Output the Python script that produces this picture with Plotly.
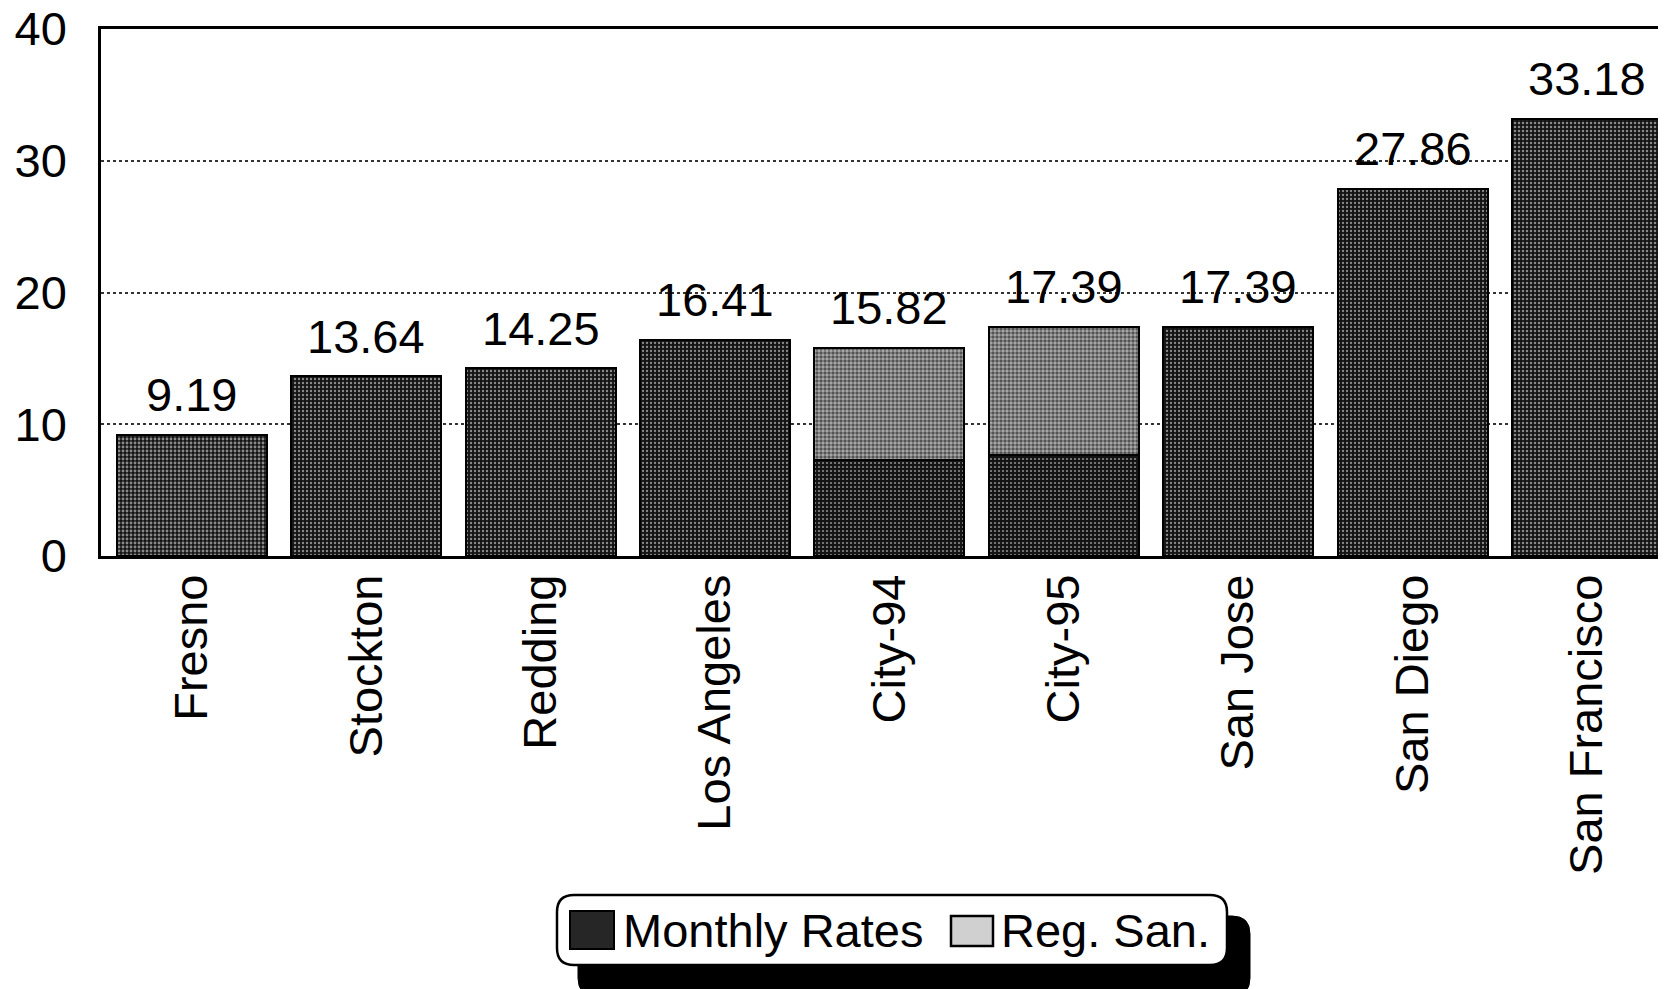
import plotly.graph_objects as go

# ---- data ----
categories = ["Fresno", "Stockton", "Redding", "Los Angeles", "City-94", "City-95",
              "San Jose", "San Diego", "San Francisco"]
monthly_rates = [9.19, 13.64, 14.25, 16.41, 7.25, 7.66, 17.39, 27.86, 33.18]
reg_san = [0, 0, 0, 0, 8.57, 9.73, 0, 0, 0]
total_labels = ["9.19", "13.64", "14.25", "16.41", "15.82", "17.39", "17.39", "27.86", "33.18"]
y_ticks = [0, 10, 20, 30, 40]
series_names = ["Monthly Rates", "Reg. San."]

FONT = "Liberation Sans, Arial, sans-serif"
FS = 47

OFF = 8  # browser default body margin
W, H = 1666 - OFF, 989 - OFF
# plot area in screen pixels
SL, ST, SB, SR = 101, 29, 556, 1666
L, T, B_PX, R = SL - OFF, ST - OFF, SB - OFF, SR - OFF
PW = R - L
PH = B_PX - T


def px2paper(x, y):
    # screen pixel -> paper coords
    return (x - SL) / PW, (SB - y) / PH


def rrect(x0, y0, x1, y1, r):
    def p(x, y):
        a, b = px2paper(x, y)
        return f"{a:.5f},{b:.5f}"
    return (f"M {p(x0 + r, y0)} L {p(x1 - r, y0)} Q {p(x1, y0)} {p(x1, y0 + r)} "
            f"L {p(x1, y1 - r)} Q {p(x1, y1)} {p(x1 - r, y1)} "
            f"L {p(x0 + r, y1)} Q {p(x0, y1)} {p(x0, y1 - r)} "
            f"L {p(x0, y0 + r)} Q {p(x0, y0)} {p(x0 + r, y0)} Z")


fig = go.Figure()
fig.add_trace(go.Bar(
    x=categories, y=monthly_rates, name=series_names[0],
    marker=dict(color="#141414", line=dict(color="black", width=2),
                pattern=dict(shape=".", fgcolor="#ffffff", bgcolor="#141414",
                             size=4,
                             solidity=[0.4, 0.28, 0.28, 0.26, 0.24, 0.24, 0.26, 0.26, 0.3])),
))
fig.add_trace(go.Bar(
    x=categories, y=reg_san, name=series_names[1],
    marker=dict(color="#5a5a5a", line=dict(color="black", width=2),
                pattern=dict(shape=".", fgcolor="#ffffff", bgcolor="#4a4a4a",
                             size=4, solidity=0.6)),
))

annotations = []
for i, c in enumerate(categories):
    total = monthly_rates[i] + reg_san[i]
    annotations.append(dict(x=c, y=total, xref="x", yref="y", text=total_labels[i],
                            showarrow=False, yanchor="middle", yshift=40,
                            font=dict(family=FONT, size=FS, color="black")))

shapes = []
# legend shadow and box
shapes.append(dict(type="path", xref="paper", yref="paper",
                   path=rrect(578, 916, 1250, 996, 18),
                   fillcolor="black", line=dict(color="black", width=1), layer="above"))
shapes.append(dict(type="path", xref="paper", yref="paper",
                   path=rrect(557, 895, 1227, 965, 17),
                   fillcolor="white", line=dict(color="black", width=2.5), layer="above"))
# swatches
sx0, sy0 = px2paper(570, 949)
sx1, sy1 = px2paper(614, 911)
shapes.append(dict(type="rect", xref="paper", yref="paper", x0=sx0, y0=sy0, x1=sx1, y1=sy1,
                   fillcolor="#262626", line=dict(color="black", width=2), layer="above"))
sx0, sy0 = px2paper(951, 946)
sx1, sy1 = px2paper(993, 916)
shapes.append(dict(type="rect", xref="paper", yref="paper", x0=sx0, y0=sy0, x1=sx1, y1=sy1,
                   fillcolor="#d0d0d0", line=dict(color="black", width=2.5), layer="above"))

tx, ty = px2paper(621, 930)
annotations.append(dict(x=tx, y=ty, xref="paper", yref="paper", text=series_names[0],
                        showarrow=False, xanchor="left", yanchor="middle",
                        font=dict(family=FONT, size=FS, color="black")))
tx, ty = px2paper(999, 930)
annotations.append(dict(x=tx, y=ty, xref="paper", yref="paper", text=series_names[1],
                        showarrow=False, xanchor="left", yanchor="middle",
                        font=dict(family=FONT, size=FS, color="black")))

fig.update_layout(
    width=W, height=H,
    margin=dict(l=L, r=W - R, t=T, b=H - B_PX, pad=0),
    paper_bgcolor="white", plot_bgcolor="white",
    barmode="stack", bargap=0.14,
    showlegend=False,
    font=dict(family=FONT, size=FS, color="black"),
    annotations=annotations,
    shapes=shapes,
)
fig.update_xaxes(
    range=[-0.521, 8.453], tickangle=-90, showline=True, linecolor="black", linewidth=2.5,
    mirror=True, ticks="", showgrid=False, ticklabelstandoff=-3, automargin=False,
    tickfont=dict(family=FONT, size=FS, color="black"),
)
fig.update_yaxes(
    range=[0, 40], tickvals=y_ticks, showline=True, linecolor="black", linewidth=2.5,
    mirror=False, ticks="", showgrid=True, gridcolor="#333333", gridwidth=1.5,
    griddash="dot", zeroline=False, ticklabelstandoff=22, ticklabeloverflow="allow",
    automargin=False,
    tickfont=dict(family=FONT, size=FS, color="black"),
)

fig.write_html("out.html")
